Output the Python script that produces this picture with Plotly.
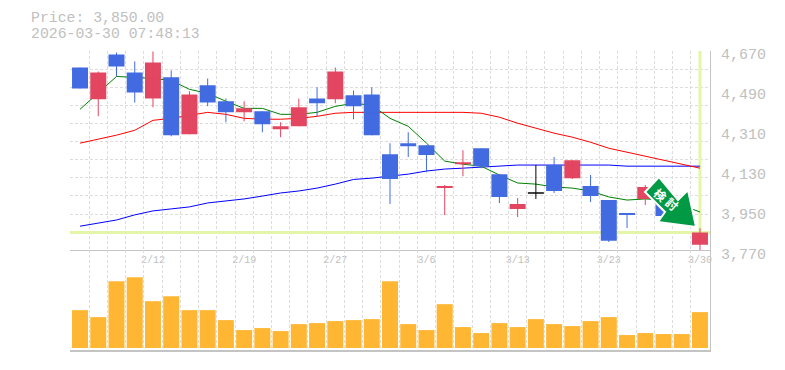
import plotly.graph_objects as go

dates = ["2/6","2/9","2/10","2/11","2/12","2/13","2/16","2/17","2/18","2/19","2/20","2/24","2/25","2/26","2/27",
         "3/2","3/3","3/4","3/5","3/6","3/9","3/10","3/11","3/12","3/13","3/16","3/17","3/18","3/19","3/23",
         "3/24","3/25","3/26","3/27","3/30"]
opens  = [4596,4452,4654,4573,4456,4551,4294,4515,4443,4393,4398,4317,4330,4456,4452,4470,4474,4204,4254,4245,
          4051,4159,4231,4114,3957,4032,4155,4096,4060,3997,3939,4002,4020,3935,3795]
closes = [4501,4573,4600,4483,4618,4290,4474,4438,4393,4411,4339,4330,4416,4434,4578,4420,4290,4092,4240,4200,
          4060,4168,4150,4011,3979,4026,4038,4177,4015,3813,3930,4056,3925,3975,3850]
highs  = [4596,4578,4663,4623,4668,4582,4488,4546,4456,4443,4398,4348,4456,4506,4596,4492,4506,4254,4303,4245,
          4065,4222,4231,4114,4006,4155,4191,4177,4110,3997,3939,4065,4078,3990,3870]
lows   = [4501,4375,4555,4438,4416,4285,4294,4420,4348,4353,4303,4281,4330,4375,4434,4362,4290,3979,4191,4123,
          3930,4105,4141,3984,3921,4002,4029,4092,3988,3808,3871,3975,3925,3920,3770]
ma_short = [4407,4479,4555,4551,4546,4537,4497,4479,4443,4411,4411,4384,4384,4393,4420,4434,4425,4366,4330,4254,
            4173,4159,4150,4110,4074,4069,4056,4051,4038,4011,3997,4002,3997,3975,3943]
ma_mid   = [4254,4272,4290,4312,4357,4366,4380,4393,4384,4366,4362,4362,4366,4375,4389,4393,4393,4393,4393,4393,
            4393,4393,4389,4371,4344,4321,4299,4281,4258,4231,4213,4195,4177,4159,4141]
ma_long  = [3879,3892,3907,3930,3948,3957,3966,3984,3993,4002,4015,4029,4038,4051,4069,4090,4096,4105,4114,4128,
            4137,4141,4146,4150,4155,4155,4155,4155,4155,4155,4150,4150,4150,4150,4150]
volumes = [38,31,67,71,47,52,38,38,28,18,20,17,24,25,27,28,29,67,24,18,44,21,15,25,21,29,24,22,27,31,13,15,14,14,36]
current_price = 3850
price_ticks = [4670,4490,4310,4130,3950,3770]
label_every_from = 4
price_title = "Price: 3,850.00"
time_title = "2026-03-30 07:48:13"
arrow_text = "検討"

PAGE_OFFSET = 8
W, H = 785 - PAGE_OFFSET, 370 - PAGE_OFFSET
L0, T0 = 70, 50.5
PW, PH = 640, 300
L, T = L0 - PAGE_OFFSET, T0 - PAGE_OFFSET
R, B = W - L - PW, H - T - PH
def px(x): return (x - L0) / PW
def py(y): return 1 - (y - T0) / PH

GREY = "#c4c4c4"
GRID = "#dddddd"
TXT = "#c0c0c0"
MONO = "Liberation Mono, monospace"
# alpha just under 1 makes the library round thin bars to whole pixels instead of widening them
UP, DOWN, FLAT = "rgba(226,68,95,0.99)", "rgba(65,105,225,0.99)", "rgba(0,0,0,0.99)"
YEL = "#e3f5a6"

n = len(dates)
idx = list(range(n))
xr = [-0.55, 34.55]
yr = [3770, 4670]
half = [i - 0.5 for i in idx]
hgrid = [3770 + 900 / 11 * k for k in range(12)]

fig = go.Figure()

fig.add_trace(go.Scatter(x=[xr[0], xr[1]], y=[current_price]*2, mode="lines", line=dict(color=YEL, width=3), xaxis="x", yaxis="y", hoverinfo="skip"))
fig.add_trace(go.Scatter(x=[n-1, n-1], y=[current_price, yr[1]], mode="lines", line=dict(color=YEL, width=3), xaxis="x", yaxis="y", hoverinfo="skip"))
for vals, col in [(ma_long, "#0000ff"), (ma_mid, "#ff0000"), (ma_short, "#008000")]:
    fig.add_trace(go.Scatter(x=idx, y=vals, mode="lines", line=dict(color=col, width=1), xaxis="x", yaxis="y"))

cols = []
for o, c in zip(opens, closes):
    cols.append(FLAT if abs(o - c) < 7 else (UP if c > o else DOWN))
fig.add_trace(go.Bar(x=idx, base=lows, y=[h - l for h, l in zip(highs, lows)], width=0.055,
                     marker=dict(color=cols, line=dict(width=0)), xaxis="x", yaxis="y3"))
fig.add_trace(go.Bar(x=idx, base=[min(o, c) for o, c in zip(opens, closes)],
                     y=[abs(o - c) for o, c in zip(opens, closes)], width=0.877,
                     marker=dict(color=cols, line=dict(width=0)), xaxis="x", yaxis="y3"))

fig.add_trace(go.Bar(x=idx, y=volumes, width=0.877, marker=dict(color="#ffb733", line=dict(width=0)),
                     xaxis="x2", yaxis="y2"))

labels_idx = idx[label_every_from::5]
vgrid = dict(tickmode="array", tickvals=half[1:] + [n - 0.5], showgrid=True, gridcolor=GRID, griddash="3px,2px", gridwidth=1, ticks="")
arrow_pts = [(659,177),(678,200),(688,190),(696,227),(658,222),(665,212),(645,192)]
path = "M " + " L ".join(f"{px(a):.5f} {py(b):.5f}" for a, b in arrow_pts) + " Z"

fig.update_layout(
    width=W, height=H, margin=dict(l=L, r=R, t=T, b=B, pad=0, autoexpand=False), autosize=False,
    paper_bgcolor="white", plot_bgcolor="white", showlegend=False, barmode="overlay",
    xaxis=dict(domain=[0,1], range=xr, anchor="y", automargin=False, tickmode="array", tickvals=labels_idx,
               ticktext=[dates[i] for i in labels_idx], showgrid=False, zeroline=False, ticks="",
               showline=True, linecolor=GREY, linewidth=1, tickfont=dict(family=MONO, size=10, color=TXT),
               ticklabelstandoff=0, ticklabeloverflow="allow", minor=vgrid),
    xaxis2=dict(domain=[0,1], range=xr, anchor="y2", automargin=False, showticklabels=False, showgrid=False, zeroline=False, ticks="",
                showline=True, linecolor=GREY, linewidth=2, minor=vgrid),
    yaxis=dict(domain=[1/3,1], range=yr, anchor="x", automargin=False, side="right", tickmode="array", tickvals=price_ticks,
               tickformat=",d", showgrid=False, zeroline=False, ticks="", showline=True, linecolor=GREY, linewidth=1,
               tickfont=dict(family=MONO, size=15, color=TXT), ticklabelstandoff=7, ticklabelshift=3,
               minor=dict(tickmode="array", tickvals=hgrid, showgrid=True, gridcolor=GRID, griddash="3px,2px", gridwidth=1, ticks="")),
    yaxis2=dict(domain=[0,1/3], range=[-2,98], anchor="x2", automargin=False, side="right", showticklabels=False, showgrid=False,
                zeroline=False, ticks="", showline=True, linecolor=GREY, linewidth=1),
    yaxis3=dict(range=yr, overlaying="y", anchor="x", automargin=False, side="right", visible=False),
    shapes=[dict(type="path", xref="paper", yref="paper", path=path, fillcolor="#009944",
                 line=dict(color="white", width=2), layer="above")],
    annotations=[
        dict(xref="paper", yref="paper", x=px(29), y=py(17), text=price_title, showarrow=False, xanchor="left", yanchor="middle",
             height=14, font=dict(family=MONO, size=14.8, color=TXT)),
        dict(xref="paper", yref="paper", x=px(29), y=py(33.5), text=time_title, showarrow=False, xanchor="left", yanchor="middle",
             height=14, font=dict(family=MONO, size=14.8, color=TXT)),
        dict(xref="paper", yref="paper", x=px(661), y=py(194), text=arrow_text[0], showarrow=False, textangle=40,
             xanchor="center", yanchor="middle", font=dict(family="Noto Sans CJK JP", size=12, color="white", weight="bold")),
        dict(xref="paper", yref="paper", x=px(672), y=py(204), text=arrow_text[1], showarrow=False, textangle=40,
             xanchor="center", yanchor="middle", font=dict(family="Noto Sans CJK JP", size=12, color="white", weight="bold")),
    ],
)
fig.write_html("out.html", config=dict(displayModeBar=False))
